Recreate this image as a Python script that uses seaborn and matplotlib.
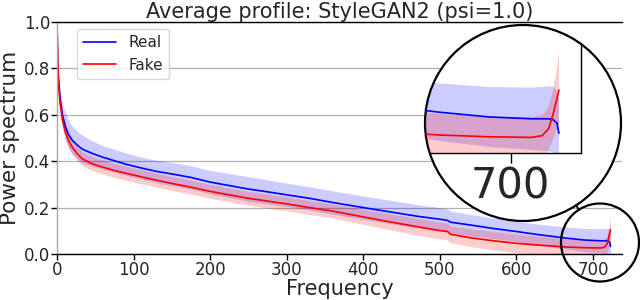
import matplotlib
matplotlib.use("Agg")
import matplotlib.pyplot as plt
from matplotlib.patches import Circle
from matplotlib.lines import Line2D
from matplotlib.transforms import IdentityTransform
import numpy as np
import seaborn as sns

# ---------------------------------------------------------------
# Data (azimuthally averaged power spectrum)
# ---------------------------------------------------------------
FREQ = [0, 1, 2, 4, 7, 11, 15, 20, 27, 33, 45, 59, 75, 90, 111, 130, 150,
        175, 200, 225, 250, 275, 300, 330, 360, 400, 434, 470, 500, 510,
        514, 540, 570, 600, 630, 666, 690, 710, 715, 718, 720, 722, 723]

REAL_MEAN = [1.00, 0.83, 0.75, 0.67, 0.60, 0.55, 0.515, 0.49, 0.468, 0.452,
             0.435, 0.418, 0.402, 0.387, 0.37, 0.356, 0.345, 0.33, 0.31, 0.295,
             0.28, 0.268, 0.255, 0.24, 0.222, 0.20, 0.182, 0.163, 0.15, 0.145,
             0.137, 0.125, 0.11, 0.097, 0.083, 0.068, 0.06, 0.057, 0.057,
             0.057, 0.056, 0.05, 0.033]
REAL_STD = [0.0, 0.02, 0.03, 0.04, 0.05, 0.06, 0.06, 0.06, 0.06, 0.06,
            0.055, 0.05, 0.05, 0.048, 0.047, 0.048, 0.05, 0.05, 0.05, 0.052,
            0.053, 0.052, 0.05, 0.05, 0.05, 0.05, 0.05, 0.05, 0.05, 0.05,
            0.048, 0.046, 0.044, 0.043, 0.045, 0.048, 0.05, 0.052, 0.053,
            0.054, 0.055, 0.055, 0.055]

FAKE_MEAN = [1.00, 0.83, 0.73, 0.65, 0.58, 0.525, 0.49, 0.46, 0.43, 0.41,
             0.39, 0.375, 0.36, 0.348, 0.332, 0.318, 0.304, 0.288, 0.27,
             0.255, 0.24, 0.228, 0.216, 0.2, 0.185, 0.16, 0.139, 0.118, 0.101,
             0.097, 0.085, 0.07, 0.057, 0.046, 0.038, 0.03, 0.027, 0.026,
             0.029, 0.04, 0.062, 0.09, 0.105]
FAKE_STD = [0.0, 0.02, 0.025, 0.03, 0.03, 0.03, 0.03, 0.03, 0.03, 0.03,
            0.03, 0.03, 0.03, 0.03, 0.03, 0.03, 0.03, 0.03, 0.03, 0.03,
            0.03, 0.03, 0.03, 0.03, 0.03, 0.032, 0.034, 0.036, 0.036, 0.036,
            0.036, 0.038, 0.04, 0.04, 0.038, 0.035, 0.034, 0.034, 0.034,
            0.036, 0.04, 0.05, 0.065]

SERIES = [("Real", REAL_MEAN, REAL_STD, "blue"),
          ("Fake", FAKE_MEAN, FAKE_STD, "red")]

TITLE = "Average profile: StyleGAN2 (psi=1.0)"
X_LABEL = "Frequency"
Y_LABEL = "Power spectrum"
X_TICKS = [0, 100, 200, 300, 400, 500, 600, 700]
Y_TICKS = [0.0, 0.2, 0.4, 0.6, 0.8, 1.0]
ZOOM_TICKS = [700]

# ---------------------------------------------------------------
# Style
# ---------------------------------------------------------------
sns.set_style("whitegrid")
plt.rcParams["font.family"] = ["DejaVu Sans"]
plt.rcParams["xtick.bottom"] = True
plt.rcParams["ytick.left"] = True

W, H = 640, 300
fig = plt.figure(figsize=(6.4, 3.0), dpi=100)
ax = fig.add_axes([57 / W, 1 - 254 / H, 565 / W, 232 / H])


def draw_series(axis, lw=1.2):
    x = np.array(FREQ)
    for name, mean, std, color in SERIES:
        m, s = np.array(mean), np.array(std)
        axis.fill_between(x, m - s, m + s, color=color, alpha=0.2, lw=0)
    for name, mean, std, color in SERIES:
        sns.lineplot(x=FREQ, y=mean, color=color, lw=lw, label=name,
                     sort=False, estimator=None, ax=axis)


draw_series(ax)

ax.set_xlim(0, 738)
ax.set_ylim(0, 1.0)
ax.set_xticks(X_TICKS)
ax.set_yticks(Y_TICKS)
ax.set_yticklabels([f"{v:.1f}" for v in Y_TICKS])
ax.tick_params(axis="both", labelsize=12, length=4, width=1, color="black",
               pad=1)
ax.grid(axis="x", visible=False)
ax.grid(axis="y", color="#b0b0b0", lw=0.9)
ax.set_title(TITLE, fontsize=15, pad=3)
ax.set_xlabel(X_LABEL, fontsize=15, labelpad=0)
ax.set_ylabel(Y_LABEL, fontsize=15.5, labelpad=3)

ax.spines["right"].set_visible(False)
ax.spines["top"].set_color("black")
ax.spines["bottom"].set_color("black")
ax.spines["left"].set_color("#a8a8a8")
for s in ("top", "bottom", "left"):
    ax.spines[s].set_linewidth(1.0)

leg = ax.legend(loc="upper left", bbox_to_anchor=(0.035, 0.97),
                borderaxespad=0, fontsize=11, frameon=True, fancybox=True,
                framealpha=0.8, edgecolor="#cccccc", handlelength=2.2)

# ---------------------------------------------------------------
# Magnifier circle with a zoomed inset
# ---------------------------------------------------------------
big_c = (523, H - 123)
big_r = 98
fig.add_artist(Circle(big_c, big_r, transform=IdentityTransform(),
                      facecolor="white", edgecolor="black", lw=1.6, zorder=1))

ax_in = fig.add_axes([410 / W, 1 - 153 / H, 171 / W, 108 / H], zorder=2)
ax_in.set_facecolor("none")
ax_in.grid(False)
draw_series(ax_in)
if ax_in.get_legend():
    ax_in.get_legend().remove()
ax_in.set_xlim(652, 733.5)
ax_in.set_ylim(0, 0.18)
ax_in.set_xticks(ZOOM_TICKS)
ax_in.set_yticks([])
ax_in.set_xlabel("")
ax_in.set_ylabel("")
ax_in.tick_params(axis="x", labelsize=30, length=7, width=1, color="black",
                  pad=2)
ax_in.spines["top"].set_visible(False)
ax_in.spines["left"].set_visible(False)
for s in ("right", "bottom"):
    ax_in.spines[s].set_color("black")
    ax_in.spines[s].set_linewidth(1.0)

clip = Circle(big_c, big_r, transform=IdentityTransform())
for art in ax_in.get_children():
    art.set_clip_path(clip)

small_c = (600, H - 242.5)
small_r = 39
fig.add_artist(Circle(small_c, small_r, transform=IdentityTransform(),
                      facecolor="none", edgecolor="black", lw=1.6, zorder=3))
fig.add_artist(Line2D([576, 579], [H - 205, H - 210],
                      transform=IdentityTransform(), color="black", lw=1.4,
                      zorder=3))

fig.savefig("out.png", dpi=100)
